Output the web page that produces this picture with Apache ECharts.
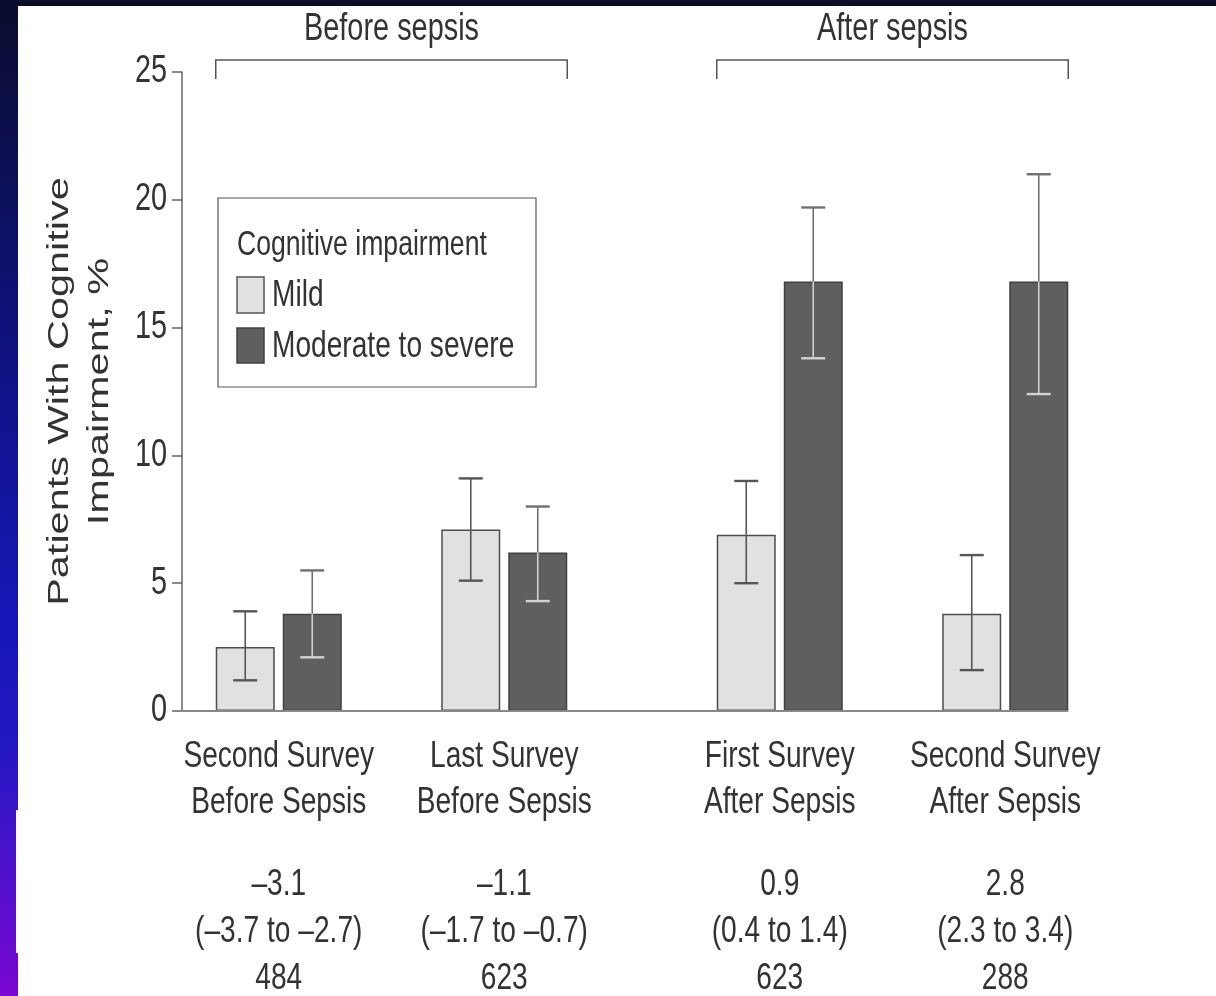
<!DOCTYPE html>
<html>
<head>
<meta charset="utf-8">
<script src="https://cdn.jsdelivr.net/npm/echarts@6/dist/echarts.min.js"></script>
<style>
  html, body { margin: 0; padding: 0; background: #ffffff; }
  #chart { width: 1216px; height: 996px; }
</style>
</head>
<body>
<div id="chart"></div>
<script>
// Survey time points, split into the two periods
const beforeCategories = ['Second Survey\nBefore Sepsis', 'Last Survey\nBefore Sepsis'];
const afterCategories = ['First Survey\nAfter Sepsis', 'Second Survey\nAfter Sepsis'];
const periodLabels = ['Before sepsis', 'After sepsis'];
const legendTitle = 'Cognitive impairment';
const severityNames = ['Mild', 'Moderate to severe'];

// Prevalence (%) with 95% CI, one entry per survey
const mildValues = [2.5, 7.1, 6.9, 3.8];
const mildLower = [1.2, 5.1, 5.0, 1.6];
const mildUpper = [3.9, 9.1, 9.0, 6.1];
const severeValues = [3.8, 6.2, 16.8, 16.8];
const severeLower = [2.1, 4.3, 13.8, 12.4];
const severeUpper = [5.5, 8.0, 19.7, 21.0];

// Change estimates, intervals and number of patients under each survey
const changeEstimates = ['–3.1', '–1.1', '0.9', '2.8'];
const changeIntervals = ['(–3.7 to –2.7)', '(–1.7 to –0.7)', '(0.4 to 1.4)', '(2.3 to 3.4)'];
const sampleSizes = ['484', '623', '623', '288'];

const yTicks = [0, 5, 10, 15, 20, 25];

// Layout and style constants
const BAR_WIDTH = 59;
const BAR_GAP = 8;
const CAP_HALF = 12;
const GRID_TOP = 72;
const GRID_HEIGHT = 639;
const GRID_WIDTH = 451;
const GRID_LEFTS = [166, 667];
const Y_AXIS_SHIFT = 16;
const TICK_LEN = 10;
const SQUEEZE = 0.76;          // condensed type: glyphs narrowed horizontally
const FONT = "'Liberation Sans', Arial, Helvetica, sans-serif";
const TEXT = '#333333';
const MILD_FILL = '#e1e1e1';
const SEVERE_FILL = '#5f5f5f';
const MILD_EDGE = '#4d4d4d';
const SEVERE_EDGE = '#404040';

function errorBarRenderer(side, aboveColor, insideColor) {
  return function (params, api) {
    const cat = api.value(0);
    const lo = api.value(1), hi = api.value(2), mean = api.value(3);
    const pLo = api.coord([cat, lo]);
    const pHi = api.coord([cat, hi]);
    const pMean = api.coord([cat, mean]);
    const x = pLo[0] + side * (BAR_WIDTH + BAR_GAP) / 2;
    return {
      type: 'group',
      children: [
        { type: 'line', shape: { x1: x, y1: pHi[1], x2: x, y2: pMean[1] }, style: { stroke: aboveColor, lineWidth: 1.6 } },
        { type: 'line', shape: { x1: x, y1: pMean[1], x2: x, y2: pLo[1] }, style: { stroke: insideColor, lineWidth: 1.6 } },
        { type: 'line', shape: { x1: x - CAP_HALF, y1: pHi[1], x2: x + CAP_HALF, y2: pHi[1] }, style: { stroke: aboveColor, lineWidth: 2.4 } },
        { type: 'line', shape: { x1: x - CAP_HALF, y1: pLo[1], x2: x + CAP_HALF, y2: pLo[1] }, style: { stroke: insideColor, lineWidth: 2.4 } }
      ]
    };
  };
}

function errorData(offset, count, lower, upper, values) {
  const out = [];
  for (let i = 0; i < count; i++) {
    out.push([i, lower[offset + i], upper[offset + i], values[offset + i]]);
  }
  return out;
}

const grids = GRID_LEFTS.map(left => ({
  left: left, top: GRID_TOP, width: GRID_WIDTH, height: GRID_HEIGHT,
  containLabel: false, outerBoundsMode: 'none'
}));

function categoryAxis(gridIndex, data) {
  return {
    type: 'category', gridIndex: gridIndex, position: 'bottom', data: data,
    axisLine: { show: false }, axisTick: { show: false }, axisLabel: { show: false }
  };
}

const yBase = {
  type: 'value', min: yTicks[0], max: yTicks[yTicks.length - 1], interval: yTicks[1] - yTicks[0],
  splitLine: { show: false }
};

const series = [];
[[0, 0], [1, 2]].forEach(([g, offset]) => {
  const n = 2;
  const gap = (BAR_GAP / BAR_WIDTH * 100).toFixed(1) + '%';
  series.push({
    type: 'bar', name: severityNames[0], xAxisIndex: g, yAxisIndex: g,
    data: mildValues.slice(offset, offset + n), barWidth: BAR_WIDTH, barGap: gap, silent: true,
    itemStyle: { color: MILD_FILL, borderColor: MILD_EDGE, borderWidth: 1.5 }
  });
  series.push({
    type: 'bar', name: severityNames[1], xAxisIndex: g, yAxisIndex: g,
    data: severeValues.slice(offset, offset + n), barWidth: BAR_WIDTH, barGap: gap, silent: true,
    itemStyle: { color: SEVERE_FILL, borderColor: SEVERE_EDGE, borderWidth: 1.5 }
  });
  series.push({
    type: 'custom', name: 'mild-ci', xAxisIndex: g, yAxisIndex: g, z: 5, silent: true,
    renderItem: errorBarRenderer(-1, '#555555', '#555555'),
    data: errorData(offset, n, mildLower, mildUpper, mildValues)
  });
  series.push({
    type: 'custom', name: 'severe-ci', xAxisIndex: g, yAxisIndex: g, z: 5, silent: true,
    renderItem: errorBarRenderer(1, '#707070', '#d2d2d2'),
    data: errorData(offset, n, severeLower, severeUpper, severeValues)
  });
});

const chart = echarts.init(document.getElementById('chart'));
chart.setOption({
  backgroundColor: '#ffffff',
  animation: false,
  grid: grids,
  xAxis: [categoryAxis(0, beforeCategories), categoryAxis(1, afterCategories)],
  yAxis: [
    Object.assign({}, yBase, {
      gridIndex: 0, offset: -Y_AXIS_SHIFT,
      axisLine: { show: true, lineStyle: { color: '#666666', width: 1.5 } },
      axisTick: { show: true, inside: false, length: TICK_LEN, lineStyle: { color: '#666666', width: 1.5 } },
      axisLabel: { show: false }
    }),
    Object.assign({}, yBase, { gridIndex: 1, show: false })
  ],
  series: series
});

// Text and decorations, placed through the axes' own pixel mapping
const xPix = (axisIndex, i) => chart.convertToPixel({ xAxisIndex: axisIndex }, i);
const yPix = v => chart.convertToPixel({ yAxisIndex: 0 }, v);
const halfGroup = BAR_WIDTH + BAR_GAP / 2;
const yTopPx = yPix(yTicks[yTicks.length - 1]);
const yZeroPx = yPix(0);
const yAxisX = GRID_LEFTS[0] + Y_AXIS_SHIFT;

function condensedText(x, y, text, size, align, lineHeight) {
  return {
    type: 'text', x: x, y: y, scaleX: SQUEEZE, silent: true, z: 20,
    style: {
      text: text, fontSize: size, lineHeight: lineHeight || Math.round(size * 1.25),
      fontFamily: FONT, fill: TEXT, align: align || 'center', verticalAlign: 'middle'
    }
  };
}

const elements = [
  // slide frame
  { type: 'rect', shape: { x: 0, y: 0, width: 1216, height: 6 }, style: { fill: '#0c0e26' }, silent: true },
  {
    type: 'rect', shape: { x: 0, y: 0, width: 18, height: 996 }, silent: true,
    style: {
      fill: new echarts.graphic.LinearGradient(0, 0, 0, 1, [
        { offset: 0, color: '#0a0c2c' },
        { offset: 0.3, color: '#0e1275' },
        { offset: 0.62, color: '#1417b6' },
        { offset: 0.75, color: '#2418c4' },
        { offset: 1, color: '#7a08d2' }
      ])
    }
  },
  { type: 'rect', shape: { x: 16, y: 810, width: 2, height: 143 }, style: { fill: '#ffffff' }, silent: true },
  // legend
  { type: 'rect', shape: { x: 218, y: 198, width: 318, height: 189 }, style: { fill: '#ffffff', stroke: '#555555', lineWidth: 1.2 }, silent: true },
  condensedText(237, 245, legendTitle, 35, 'left'),
  { type: 'rect', shape: { x: 237, y: 277, width: 27, height: 36 }, style: { fill: MILD_FILL, stroke: '#555555', lineWidth: 1.5 }, silent: true },
  condensedText(272, 296, severityNames[0], 37, 'left'),
  { type: 'rect', shape: { x: 237, y: 328, width: 27, height: 35 }, style: { fill: SEVERE_FILL, stroke: SEVERE_EDGE, lineWidth: 1.5 }, silent: true },
  condensedText(272, 347, severityNames[1], 37, 'left'),
  // y-axis title (stretched along its reading direction)
  {
    type: 'text', x: 80, y: (yTopPx + yZeroPx) / 2, rotation: Math.PI / 2, scaleX: 1.43, silent: true,
    style: {
      text: 'Patients With Cognitive\nImpairment, %', fontSize: 29, lineHeight: 40, fontFamily: FONT,
      fill: TEXT, align: 'center', verticalAlign: 'middle'
    }
  },
  // baseline
  {
    type: 'line', z: 10, silent: true,
    shape: { x1: yAxisX - TICK_LEN, y1: yZeroPx, x2: xPix(1, 1) + halfGroup, y2: yZeroPx },
    style: { stroke: '#888888', lineWidth: 2 }
  }
];

// y tick labels
yTicks.forEach(v => elements.push(condensedText(yAxisX - 15, yPix(v), String(v), 38, 'right')));

// category names and change statistics under each survey
const allCategories = beforeCategories.concat(afterCategories);
allCategories.forEach((name, i) => {
  const axisIndex = i < 2 ? 0 : 1;
  const x = xPix(axisIndex, i % 2);
  elements.push(condensedText(x, yZeroPx + 69, name, 37, 'center', 46));
  const stats = changeEstimates[i] + '\n' + changeIntervals[i] + '\n' + sampleSizes[i];
  elements.push(condensedText(x, yZeroPx + 221, stats, 37, 'center', 47));
});

// period brackets
[0, 1].forEach(p => {
  const left = xPix(p, 0) - halfGroup;
  const right = xPix(p, 1) + halfGroup;
  const top = yTopPx - 12;
  elements.push({
    type: 'polyline', silent: true,
    shape: { points: [[left, yTopPx + 7], [left, top], [right, top], [right, yTopPx + 7]] },
    style: { stroke: '#555555', lineWidth: 1.5, fill: 'none' }
  });
  elements.push(condensedText((left + right) / 2, yTopPx - 42, periodLabels[p], 38, 'center'));
});

chart.setOption({ graphic: { elements: elements } });
</script>
</body>
</html>
